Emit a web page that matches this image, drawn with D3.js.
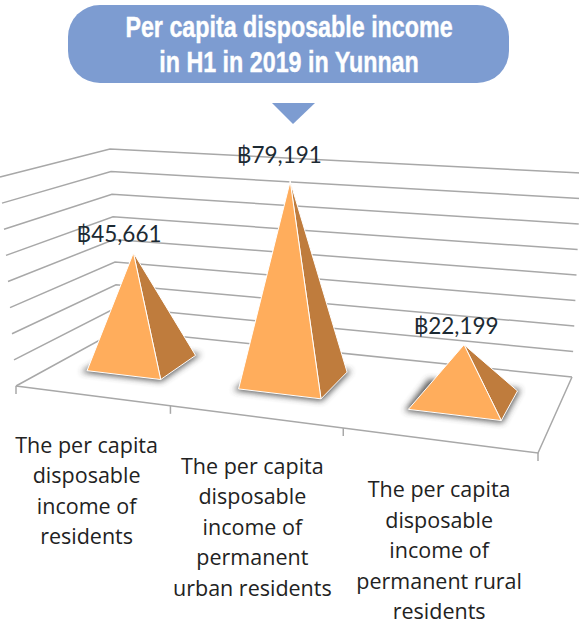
<!DOCTYPE html>
<html>
<head>
<meta charset="utf-8">
<title>Per capita disposable income in H1 in 2019 in Yunnan</title>
<script src="https://cdn.jsdelivr.net/npm/d3@7"></script>
<style>
    html, body { margin: 0; padding: 0; background: #fff; overflow: hidden; }
    svg { display: block; }
    .title { font-family: "Liberation Sans", sans-serif; font-weight: bold; font-size: 29px; fill: #fff; stroke: #fff; stroke-width: 0.4px; text-anchor: middle; }
    .value { font-family: Lato, "Open Sans", sans-serif; font-size: 22.5px; fill: #1c2a33; text-anchor: middle; }
    .category { font-family: "Open Sans", sans-serif; font-size: 21.5px; fill: #222; text-anchor: middle; }
</style>
</head>
<body>
<script>
const titleLines = ['Per capita disposable income', 'in H1 in 2019 in Yunnan'];
const categories = ['residents', 'urban', 'rural'];
const values = [45661, 79191, 22199];
const categoryLines = [
    ['The per capita', 'disposable', 'income of', 'residents'],
    ['The per capita', 'disposable', 'income of', 'permanent', 'urban residents'],
    ['The per capita', 'disposable', 'income of', 'permanent rural', 'residents']
];
const axisTicks = [0, 10000, 20000, 30000, 40000, 50000, 60000, 70000, 80000];

/**
 * Visual configs.
 */
const visWidth = 579, visHeight = 620;
const blue = '#7d9cd1', gridColor = '#a8a8a8',
    frontColor = '#ffad5c', sideColor = '#bf7c3d';

// Corners of the 3D box as they land on the page
const floor = { fl: [16, 386], fr: [538, 453], bl: [118, 330], br: [572, 377] };
const ceil = { fl: [0, 177], fr: [556, 226], bl: [110, 149], br: [581, 173] };
const perspective = 1.19; // The right of the box is closer to the viewer

// Hand placed labels: value labels relative to each apex, category labels to the front edge
const labelShiftX = [-14.5, -11, -8], labelShiftY = [-11, -18, -11],
    categoryShiftX = [-4.5, -2, 1.5];

/**
 * D3.
 */
const xScale = d3.scaleBand().domain(categories).range([0, 1]).paddingInner(0.5).paddingOuter(0.25),
    yScale = d3.scaleLinear().domain([0, 80000]).range([0, 1]);

const line = d3.line();

const svg = d3.select('body').append('svg')
    .attr('width', visWidth)
    .attr('height', visHeight);

const defs = svg.append('defs');
defs.append('filter').attr('id', 'shadow')
    .attr('x', '-30%').attr('y', '-50%').attr('width', '160%').attr('height', '200%')
    .append('feGaussianBlur').attr('stdDeviation', 3);
defs.append('filter').attr('id', 'soft')
    .append('feGaussianBlur').attr('stdDeviation', 0.35);

function corner(quad, x, z) {
    const u = x / (x + perspective * (1 - x));
    const front = d3.interpolateArray(quad.fl, quad.fr)(u);
    const back = d3.interpolateArray(quad.bl, quad.br)(u);
    return d3.interpolateArray(front, back)(z);
}

/**
 * Projects box coordinates, x and z in 0-1 and a value, to the page.
 */
function project(x, z, value) {
    return d3.interpolateArray(corner(floor, x, z), corner(ceil, x, z))(yScale(value));
}

function drawTitle() {
    svg.append('rect')
        .attr('x', 68).attr('y', 5)
        .attr('width', 441).attr('height', 78)
        .attr('rx', 32).attr('ry', 32)
        .attr('fill', blue);

    // No narrow bold face is installed, so squeeze the regular one
    svg.selectAll('.title').data(titleLines).enter().append('text')
        .attr('class', 'title')
        .attr('transform', (d, i) => 'translate(289,' + (37 + i * 35) + ') scale(0.803,1)')
        .text(d => d);

    svg.append('path')
        .attr('d', 'M272,103L315,103L293,124Z')
        .attr('fill', blue);
}

function drawAxes() {
    const g = svg.append('g').attr('class', 'axes')
        .attr('fill', 'none')
        .attr('stroke', gridColor)
        .attr('stroke-width', 1.5)
        .attr('filter', 'url(#soft)');

    // Wall lines, running from the front left to the back corner and on to the back right
    g.selectAll('.grid').data(axisTicks).enter().append('path')
        .attr('class', 'grid')
        .attr('d', d => line([project(0, 0, d), project(0, 1, d), project(1, 1, d)]));

    // Floor edges
    g.append('path').attr('d', line([project(0, 0, 0), project(1, 0, 0), project(1, 1, 0)]));

    // Category ticks along the front edge
    g.selectAll('.tick').data(d3.range(4)).enter().append('path')
        .attr('class', 'tick')
        .attr('d', d => {
            const p = project(d / 3, 0, 0);
            return line([p, [p[0], p[1] + 8]]);
        });
}

function drawPyramids() {
    const depth = [0.35, 0.75], apexDepth = 0.51;

    categories.forEach((c, i) => {
        const x0 = xScale(c), x1 = x0 + xScale.bandwidth(), xm = (x0 + x1) / 2;

        const fl = project(x0, depth[0], 0),
            fr = project(x1, depth[0], 0),
            br = project(x1, depth[1], 0),
            bl = project(x0, depth[1], 0),
            apex = project(xm, apexDepth, values[i]);

        const g = svg.append('g').attr('class', 'pyramid');

        g.append('path')
            .attr('d', line([fl, fr, br, bl]) + 'Z')
            .attr('fill', '#444')
            .attr('stroke', '#444')
            .attr('stroke-width', 4)
            .attr('opacity', 0.9)
            .attr('filter', 'url(#shadow)');

        g.append('path')
            .attr('d', line([fr, br, apex]) + 'Z')
            .attr('fill', sideColor)
            .attr('stroke', '#fff')
            .attr('stroke-width', 1)
            .attr('stroke-linejoin', 'round');

        g.append('path')
            .attr('d', line([fl, fr, apex]) + 'Z')
            .attr('fill', frontColor)
            .attr('stroke', '#fff')
            .attr('stroke-width', 1)
            .attr('stroke-linejoin', 'round');

        svg.append('text')
            .attr('class', 'value')
            .attr('x', apex[0] + labelShiftX[i])
            .attr('y', apex[1] + labelShiftY[i])
            .text('\u0E3F' + d3.format(',')(values[i]));
    });
}

function drawCategoryLabels() {
    categories.forEach((c, i) => {
        const p = project(xScale(c) + xScale.bandwidth() / 2, 0, 0);

        svg.append('text').attr('class', 'category')
            .selectAll('tspan').data(categoryLines[i]).enter().append('tspan')
            .attr('x', p[0] + categoryShiftX[i])
            .attr('y', (d, j) => p[1] + 57 + j * 30.5)
            .text(d => d);
    });
}

drawTitle();
drawAxes();
drawPyramids();
drawCategoryLabels();
</script>
</body>
</html>
